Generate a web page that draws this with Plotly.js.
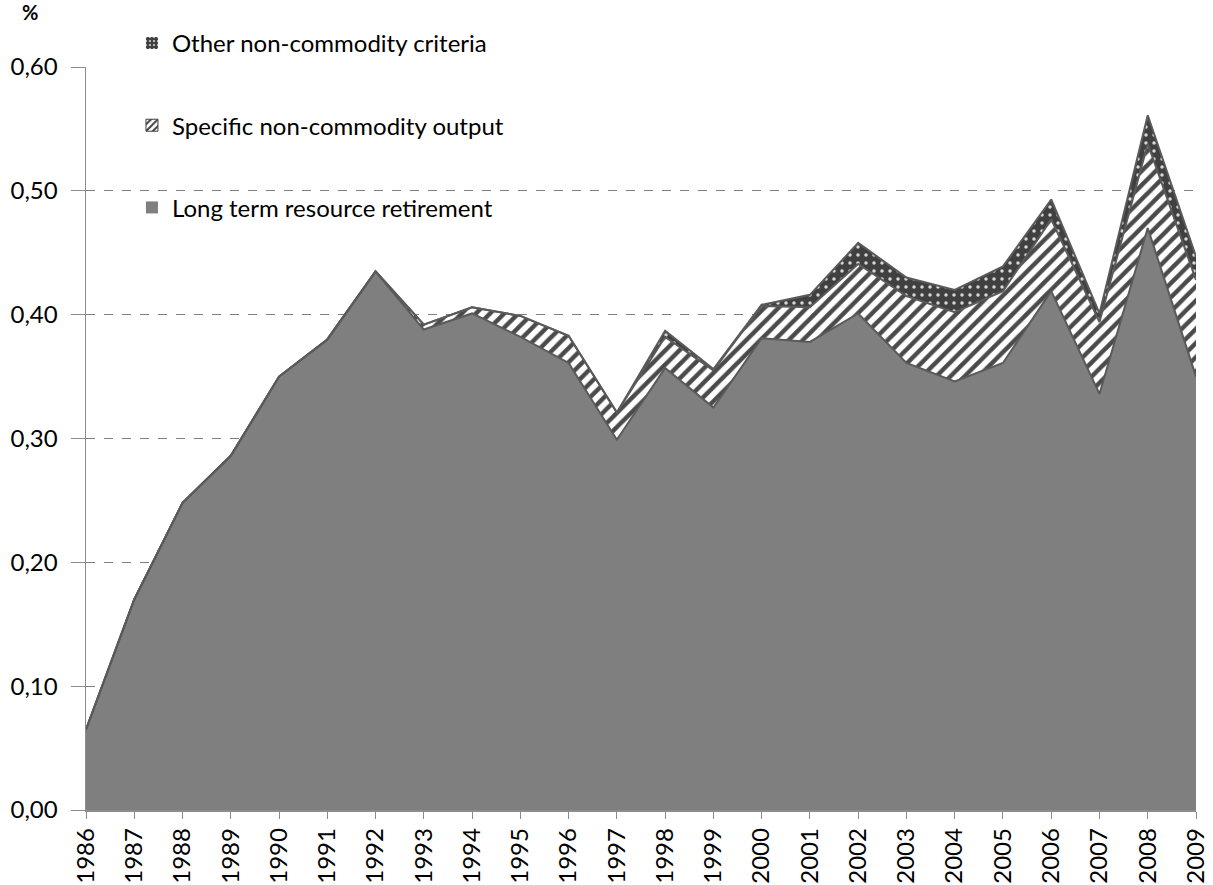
<!DOCTYPE html>
<html><head><meta charset="utf-8">
<script src="https://cdn.plot.ly/plotly-3.0.1.min.js"></script>
<style>html,body{margin:0;padding:0;background:#fff}#chart{width:1213px;height:885px}</style>
</head><body><div id="chart"></div>
<script>
const years = [1986,1987,1988,1989,1990,1991,1992,1993,1994,1995,1996,1997,1998,1999,2000,2001,2002,2003,2004,2005,2006,2007,2008,2009];
const longTerm = [0.065,0.170,0.248,0.286,0.350,0.380,0.435,0.388,0.401,0.382,0.361,0.299,0.357,0.325,0.381,0.378,0.401,0.361,0.346,0.361,0.419,0.336,0.470,0.350];
const specific = [0,0,0,0,0,0,0,0.004,0.005,0.017,0.022,0.022,0.025,0.030,0.026,0.028,0.040,0.054,0.056,0.058,0.058,0.058,0.068,0.078];
const other = [0,0,0,0,0,0,0,0,0,0,0,0,0.005,0.001,0.001,0.010,0.017,0.015,0.018,0.020,0.016,0.007,0.023,0.019];
const names = ["Long term resource retirement","Specific non-commodity output","Other non-commodity criteria"];
const yTicks = [0,0.1,0.2,0.3,0.4,0.5,0.6];
const yTickText = ["0,00","0,10","0,20","0,30","0,40","0,50","0,60"];

const lineCol = '#5a5a5a';
const stripe = {shape: '/', bgcolor: '#ffffff', fgcolor: '#4a4a4a', size: 10, solidity: 0.45};
const dots = {shape: '.', bgcolor: '#404040', fgcolor: '#d8d8d8', size: 8, solidity: 0.15};
const traces = [
  {x: years, y: longTerm, name: names[0], stackgroup: 'one', mode: 'lines', showlegend: false,
   line: {color: lineCol, width: 2}, fillcolor: '#7f7f7f'},
  {x: years, y: specific, name: names[1], stackgroup: 'one', mode: 'lines', showlegend: false,
   line: {color: lineCol, width: 2}, fillcolor: '#ffffff', fillpattern: stripe},
  {x: years, y: other, name: names[2], stackgroup: 'one', mode: 'lines', showlegend: false,
   line: {color: lineCol, width: 2}, fillcolor: '#404040', fillpattern: dots},
  // legend entries
  {type: 'bar', x: [null], y: [null], name: names[2], legendgroup: 'c',
   marker: {color: '#404040', line: {width: 0}, pattern: {shape: '.', bgcolor: '#404040', fgcolor: '#e0e0e0', size: 5, solidity: 0.2}}},
  {type: 'bar', x: [null], y: [null], name: names[1], legendgroup: 'b',
   marker: {color: '#ffffff', line: {color: '#404040', width: 1}, pattern: {shape: '/', bgcolor: '#ffffff', fgcolor: '#404040', size: 6, solidity: 0.4}}},
  {type: 'bar', x: [null], y: [null], name: names[0], legendgroup: 'a',
   marker: {color: '#7f7f7f', line: {width: 0}}}
];

const layout = {
  width: 1213, height: 885,
  margin: {l: 86, r: 17, t: 67, b: 75},
  paper_bgcolor: '#ffffff', plot_bgcolor: '#ffffff',
  font: {family: 'Lato, "Open Sans", sans-serif', color: '#000', size: 24},
  showlegend: true,
  legend: {x: 0.0414, y: 1.062, xanchor: 'left', yanchor: 'top', traceorder: 'grouped',
           tracegroupgap: 48, font: {size: 24, family: 'Lato, sans-serif'}, bgcolor: 'rgba(0,0,0,0)',
           itemwidth: 30},
  xaxis: {range: [1986, 2009], tickvals: years, ticktext: years.map(String), tickangle: -90,
          showgrid: false, zeroline: false, showline: true, linecolor: '#8c8c8c', linewidth: 1.5,
          ticks: 'outside', ticklen: 7, tickcolor: '#8c8c8c', tickfont: {size: 24}},
  yaxis: {range: [0, 0.6], tickvals: yTicks, ticktext: yTickText, showgrid: true,
          gridcolor: '#7f7f7f', griddash: 'dash', gridwidth: 1, zeroline: false,
          showline: true, linecolor: '#8c8c8c', linewidth: 1.5, ticks: 'outside', ticklen: 14,
          ticklabelstandoff: 8, tickcolor: '#8c8c8c', tickfont: {size: 24}},
  annotations: [{text: '<b>%</b>', xref: 'paper', yref: 'paper', x: -0.0595, y: 1.074,
                 xanchor: 'left', yanchor: 'middle', showarrow: false, font: {size: 20}}]
};
Plotly.newPlot('chart', traces, layout, {displayModeBar: false, staticPlot: true});
</script></body></html>
